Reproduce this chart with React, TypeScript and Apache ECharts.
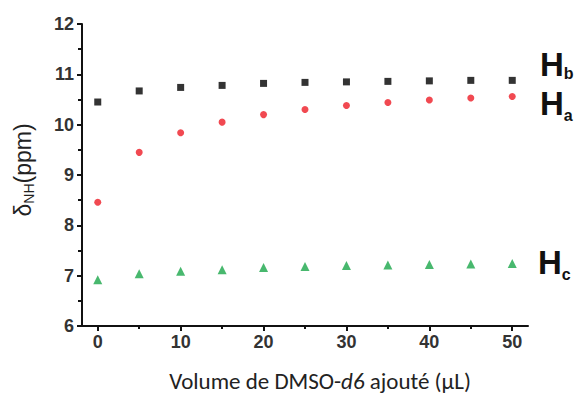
import React, { useEffect, useRef } from "react";
import * as echarts from "echarts";

const volumes = [0, 5, 10, 15, 20, 25, 30, 35, 40, 45, 50];
const hbValues = [10.45, 10.67, 10.74, 10.78, 10.82, 10.84, 10.85, 10.86, 10.87, 10.88, 10.88];
const haValues = [8.46, 9.45, 9.84, 10.05, 10.2, 10.3, 10.38, 10.44, 10.49, 10.53, 10.56];
const hcValues = [6.92, 7.04, 7.09, 7.12, 7.16, 7.18, 7.2, 7.21, 7.22, 7.23, 7.24];
const xTicks = [0, 10, 20, 30, 40, 50];
const xMinorTicks = [5, 15, 25, 35, 45];
const yTicks = [6, 7, 8, 9, 10, 11, 12];

const pair = (vals: number[]) => volumes.map((v, i) => [v, vals[i]]);

const NARROW = "Liberation Sans Narrow, Arial Narrow, Liberation Sans, Arial, sans-serif";

export default function App() {
  const ref = useRef<HTMLDivElement>(null);
  useEffect(() => {
    if (!ref.current) return;
    const chart = echarts.init(ref.current, undefined, { renderer: "svg" });
    const tickFont = { fontFamily: NARROW, fontSize: 18, color: "#333", fontWeight: "bold" as const };
    const hRich = (pad: number) => ({
      h: { fontFamily: NARROW, fontWeight: "bold", fontSize: 33, fill: "#111" },
      s: { fontFamily: NARROW, fontWeight: "bold", fontSize: 16, fill: "#111", verticalAlign: "bottom", padding: [pad, 0, 0, 0] },
    });
    chart.setOption({
      animation: false,
      backgroundColor: "#fff",
      grid: { left: 82, right: 47, top: 24, bottom: 68 },
      xAxis: [
        {
          type: "value",
          min: -1.9,
          max: 51.9,
          splitLine: { show: false },
          axisLine: { show: true, onZero: false, lineStyle: { color: "#111", width: 2 } },
          axisTick: { show: true, length: 5, lineStyle: { color: "#111", width: 2 }, customValues: xTicks },
          axisLabel: { ...tickFont, margin: 7, customValues: xTicks, formatter: (v: number) => String(v) },
        },
        {
          type: "value",
          position: "bottom",
          min: -1.9,
          max: 51.9,
          splitLine: { show: false },
          axisLine: { show: false, onZero: false },
          axisTick: { show: true, length: 3, lineStyle: { color: "#111", width: 2 }, customValues: xMinorTicks },
          axisLabel: { show: false },
        },
      ],
      yAxis: {
        type: "value",
        min: 6,
        max: 12,
        interval: 1,
        splitLine: { show: false },
        axisLine: { show: true, onZero: false, lineStyle: { color: "#111", width: 2 } },
        axisTick: { show: true, length: 5, lineStyle: { color: "#111", width: 2 } },
        minorTick: { show: true, splitNumber: 2, length: 4, lineStyle: { color: "#111", width: 2 } },
        axisLabel: { ...tickFont, margin: 8, formatter: (v: number) => (yTicks.includes(v) ? String(v) : "") },
      },
      series: [
        {
          name: "Hb",
          type: "scatter",
          symbol: "rect",
          symbolSize: 7,
          itemStyle: { color: "#000" },
          data: pair(hbValues),
        },
        {
          name: "Ha",
          type: "scatter",
          symbol: "circle",
          symbolSize: 7,
          itemStyle: { color: "#ee1c25" },
          data: pair(haValues),
        },
        {
          name: "Hc",
          type: "scatter",
          symbol: "triangle",
          symbolSize: 9,
          itemStyle: { color: "#1aa64a" },
          data: pair(hcValues),
        },
      ],
      graphic: [
        { type: "text", left: 540, top: 48, style: { text: "{h|H}{s|b}", rich: hRich(14) } },
        { type: "text", left: 540, top: 87, style: { text: "{h|H}{s|a}", rich: hRich(24) } },
        { type: "text", left: 538, top: 246, style: { text: "{h|H}{s|c}", rich: hRich(24) } },
        {
          type: "text",
          x: 320,
          y: 381,
          style: {
            text: "{n|Volume de DMSO-}{i|d6}{n| ajouté (µL)}",
            align: "center",
            verticalAlign: "middle",
            rich: {
              n: { fontFamily: "Carlito, Open Sans, sans-serif", fontSize: 23, lineHeight: 22, fill: "#222" },
              i: { fontFamily: "Carlito, Open Sans, sans-serif", fontSize: 23, lineHeight: 22, fontStyle: "italic", fill: "#222" },
            },
          },
        },
        {
          type: "text",
          x: 23,
          y: 170,
          rotation: Math.PI / 2,
          style: {
            text: "{n|δ}{s|NH}{n|(ppm)}",
            align: "center",
            verticalAlign: "middle",
            rich: {
              n: { fontFamily: "Liberation Sans, Arial", fontSize: 23, fill: "#222" },
              s: { fontFamily: "Liberation Sans, Arial", fontSize: 14, fill: "#222", verticalAlign: "bottom", padding: [11, 0, 0, 0] },
            },
          },
        },
      ],
    });
    return () => chart.dispose();
  }, []);
  return <div ref={ref} style={{ width: 575, height: 394, position: "absolute", left: 0, top: 0 }} />;
}
